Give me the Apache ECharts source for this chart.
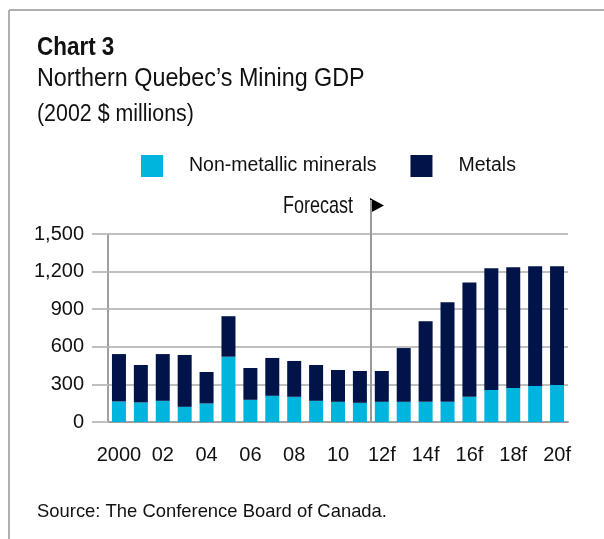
<!DOCTYPE html>
<html>
<head>
<meta charset="utf-8">
<script src="https://cdn.jsdelivr.net/npm/echarts@6/dist/echarts.min.js"></script>
<style>
  html, body { margin: 0; padding: 0; background: #fff; }
  #chart { width: 604px; height: 539px; }
</style>
</head>
<body>
<div id="chart"></div>
<script>
// years 2000 - 2020, forecast from 2012
var years = ['2000', '01', '02', '03', '04', '05', '06', '07', '08', '09', '10', '11',
  '12f', '13f', '14f', '15f', '16f', '17f', '18f', '19f', '20f'];
var nonMetallic = [164, 156, 169, 121, 148, 521, 177, 209, 201, 169, 161, 153,
  161, 161, 161, 161, 201, 256, 272, 288, 296];
var metals = [378, 299, 373, 414, 251, 323, 254, 302, 286, 286, 254, 254,
  246, 429, 643, 794, 913, 970, 962, 954, 946];
var yTicks = [0, 300, 600, 900, 1200, 1500];

var FONT = '"Liberation Sans", Arial, sans-serif';
var INK = '#111';
var LIGHT = '#00b5dd';
var DARK = '#001449';

var myChart = echarts.init(document.getElementById('chart'));

// narrow-looking text: a normal face squeezed horizontally
function label(text, x, y, size, sx, weight) {
  return {
    type: 'text', x: x, y: y, scaleX: sx,
    style: {
      text: text, fill: INK, align: 'left', verticalAlign: 'top',
      font: (weight || 'normal') + ' ' + size + 'px ' + FONT
    }
  };
}

var option = {
  animation: false,
  textStyle: { fontFamily: FONT, color: INK },
  legend: {
    left: 136, top: 150,
    itemWidth: 22, itemHeight: 22, itemGap: 34,
    icon: 'rect',
    textStyle: { fontFamily: FONT, fontSize: 19.5, color: INK, padding: [0, 0, 0, 21] },
    data: ['Non-metallic minerals', 'Metals']
  },
  grid: { left: 108, right: 36, top: 234, bottom: 117 },
  xAxis: {
    type: 'category',
    data: years,
    axisLine: { lineStyle: { color: '#a0a0a0', width: 2 } },
    axisTick: { show: false },
    axisLabel: { interval: 1, margin: 23, fontSize: 20, color: INK, fontFamily: FONT }
  },
  yAxis: {
    type: 'value',
    min: 0, max: 1500, interval: 300,
    axisLine: { show: true, lineStyle: { color: '#a0a0a0', width: 2 } },
    axisTick: { show: true, length: 16, lineStyle: { color: '#c0c0c0', width: 2 } },
    splitLine: { lineStyle: { color: '#c0c0c0', width: 2 } },
    axisLabel: {
      margin: 24, fontSize: 20, color: INK, fontFamily: FONT,
      formatter: function (v) { return yTicks.indexOf(v) >= 0 ? v.toLocaleString('en-US') : ''; }
    }
  },
  series: [
    { name: 'Non-metallic minerals', type: 'bar', stack: 'gdp', barWidth: 14,
      itemStyle: { color: LIGHT }, data: nonMetallic },
    { name: 'Metals', type: 'bar', stack: 'gdp', barWidth: 14,
      itemStyle: { color: DARK }, data: metals }
  ]
};
myChart.setOption(option);

// forecast divider halfway between 2011 and 2012, taken from the axis
var x1 = myChart.convertToPixel({ xAxisIndex: 0 }, '11');
var x2 = myChart.convertToPixel({ xAxisIndex: 0 }, '12f');
var xf = Math.round((x1 + x2) / 2);
var y0 = myChart.convertToPixel({ yAxisIndex: 0 }, 0);

myChart.setOption({
  graphic: [
    // frame
    { type: 'line', shape: { x1: 9, y1: 10, x2: 604, y2: 10 }, style: { stroke: '#b0b0b0', lineWidth: 2 } },
    { type: 'line', shape: { x1: 9, y1: 10, x2: 9, y2: 539 }, style: { stroke: '#b0b0b0', lineWidth: 2 } },
    // headings and source
    label('Chart 3', 37, 35, 25.5, 0.88, 'bold'),
    label('Northern Quebec\u2019s Mining GDP', 37, 66.3, 25.5, 0.915),
    label('(2002 $ millions)', 37, 103, 23, 0.93),
    label('Source: The Conference Board of Canada.', 37, 502, 18.6, 0.99),
    // forecast marker
    { type: 'line', shape: { x1: xf, y1: 200, x2: xf, y2: y0 }, style: { stroke: '#999', lineWidth: 2 }, z: 10 },
    { type: 'polygon', shape: { points: [[xf - 1, 198], [xf + 13, 205.5], [xf - 1, 213]] }, style: { fill: '#000' } },
    label('Forecast', 283, 194, 24, 0.75)
  ]
});
</script>
</body>
</html>
